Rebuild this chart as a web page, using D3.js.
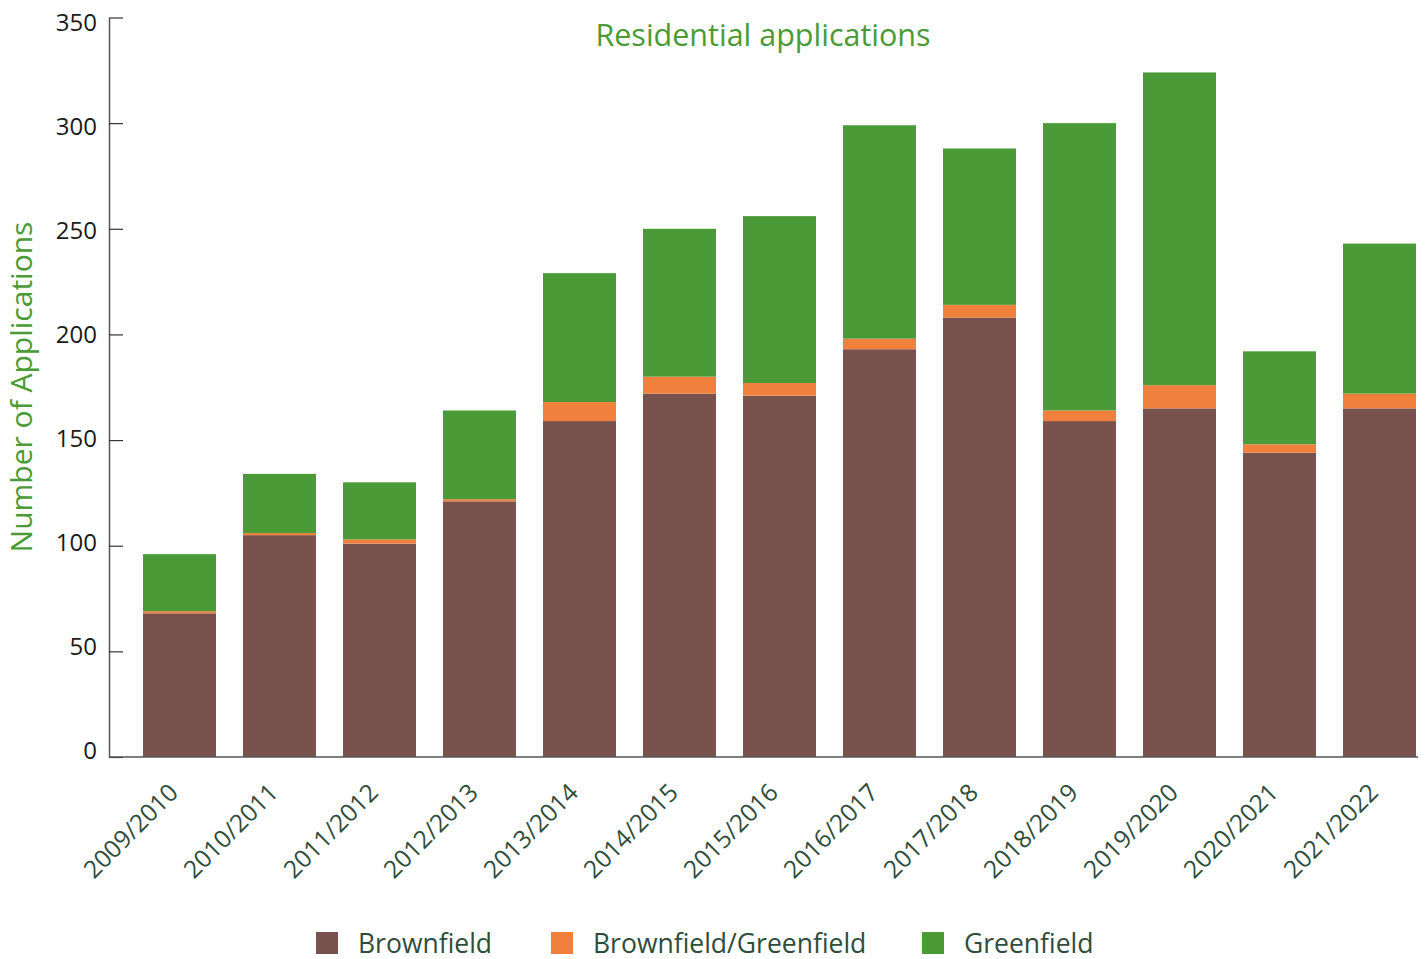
<!DOCTYPE html>
<html>
<head>
<meta charset="utf-8">
<script src="https://cdn.jsdelivr.net/npm/d3@7"></script>
<style>
  body { margin: 0; background: #fff; }
  text { font-family: "Open Sans", "Noto Sans", sans-serif; }
</style>
</head>
<body>
<div class="svg-container"></div>
<script>
// chart data
const years = [
  "2009/2010", "2010/2011", "2011/2012", "2012/2013", "2013/2014", "2014/2015", "2015/2016",
  "2016/2017", "2017/2018", "2018/2019", "2019/2020", "2020/2021", "2021/2022"
];
const brownfield = [68, 105, 101, 121, 159, 172, 171, 193, 208, 159, 165, 144, 165];
const mixed = [1, 1, 2, 1, 9, 8, 6, 5, 6, 5, 11, 4, 7];
const greenfield = [27, 28, 27, 42, 61, 70, 79, 101, 74, 136, 148, 44, 71];
const seriesNames = ["Brownfield", "Brownfield/Greenfield", "Greenfield"];
const seriesColors = ["#79524e", "#f0803c", "#4a9b37"];
const yTicks = [0, 50, 100, 150, 200, 250, 300, 350];

const width = 1425;
const height = 959;

const svg = d3.select(".svg-container")
  .append("svg")
  .attr("width", width)
  .attr("height", height);

// scales
const x = d3.scaleBand()
  .domain(years)
  .range([129.5, 1429.5])
  .paddingInner(0.27)
  .paddingOuter(0.135);

const y = d3.scaleLinear()
  .domain([0, 350])
  .range([757, 17.5]);

// tick labels sit on a slightly tighter span than the ticks themselves
const yLabel = d3.scaleLinear()
  .domain([0, 350])
  .range([750, 22]);

// stack the three series
const rows = years.map((yr, i) => ({
  year: yr,
  Brownfield: brownfield[i],
  "Brownfield/Greenfield": mixed[i],
  Greenfield: greenfield[i],
}));
const stacked = d3.stack().keys(seriesNames)(rows);

svg.append("g")
  .selectAll("g")
  .data(stacked)
  .enter()
  .append("g")
  .attr("fill", (d, i) => seriesColors[i])
  .selectAll("rect")
  .data((d) => d)
  .enter()
  .append("rect")
  .attr("x", (d) => x(d.data.year))
  .attr("y", (d) => y(d[1]))
  .attr("width", x.bandwidth())
  .attr("height", (d) => y(d[0]) - y(d[1]));

// y axis, ticks pointing inward
const yAxis = svg.append("g")
  .attr("transform", "translate(109,0)")
  .call(d3.axisRight(y).tickValues(yTicks).tickSize(14).tickSizeOuter(0).tickFormat((d) => d));
yAxis.select(".domain").attr("stroke", "#555").attr("stroke-width", 1.5);
yAxis.selectAll(".tick line").attr("stroke", "#333").attr("stroke-width", 1.2);
yAxis.selectAll(".tick text")
  .attr("x", -12)
  .attr("y", (d) => yLabel(d) - y(d))
  .attr("dy", "0.36em")
  .attr("text-anchor", "end")
  .attr("font-size", 24)
  .attr("fill", "#1a1a1a");

// x axis baseline
svg.append("line")
  .attr("x1", 109)
  .attr("x2", 1418)
  .attr("y1", y(0))
  .attr("y2", y(0))
  .attr("stroke", "#555")
  .attr("stroke-width", 1.5);

// rotated category labels
svg.append("g")
  .selectAll("text")
  .data(years)
  .enter()
  .append("text")
  .text((d) => d)
  .attr("transform", (d) => `translate(${x(d) + x.bandwidth() / 2 - 12},${782}) rotate(-45)`)
  .attr("text-anchor", "end")
  .attr("dy", "0.7em")
  .attr("font-size", 24.5)
  .attr("fill", "#2e4d3b");

// title
svg.append("text")
  .text("Residential applications")
  .attr("x", 763)
  .attr("y", 46)
  .attr("text-anchor", "middle")
  .attr("font-size", 30.5)
  .attr("fill", "#4a9b37");

// y axis title
svg.append("text")
  .text("Number of Applications")
  .attr("transform", "translate(32,387) rotate(-90)")
  .attr("text-anchor", "middle")
  .attr("font-size", 30)
  .attr("fill", "#4a9b37");

// legend
const legendX = [316, 551, 922];
const legend = svg.append("g")
  .selectAll("g")
  .data(seriesNames)
  .enter()
  .append("g")
  .attr("transform", (d, i) => `translate(${legendX[i]},932)`);
legend.append("rect")
  .attr("width", 22)
  .attr("height", 22)
  .attr("fill", (d, i) => seriesColors[i]);
legend.append("text")
  .text((d) => d)
  .attr("x", 42)
  .attr("y", 21)
  .attr("font-size", 26.5)
  .attr("fill", "#2e4d3b");
</script>
</body>
</html>
